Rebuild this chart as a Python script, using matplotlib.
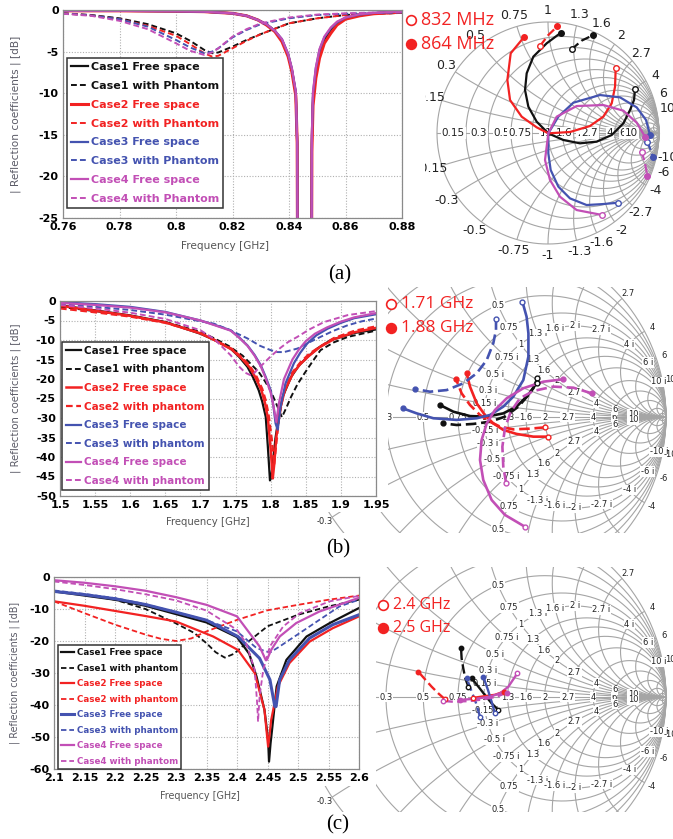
import numpy as np
import matplotlib
matplotlib.use('Agg')
import matplotlib.pyplot as plt
from matplotlib.patches import Circle
from matplotlib.lines import Line2D

plt.rcParams['axes.unicode_minus'] = False
plt.rcParams['font.family'] = ['DejaVu Sans']

# ---------------- colours ----------------
BLK = '#111111'
RED = '#f22222'
BLU = '#4453b0'
MAG = '#c24fb6'

# ---------------- panel (a) reflection data ----------------
a_free_f = [0.76, 0.78, 0.80, 0.81, 0.82, 0.825, 0.829, 0.832, 0.835, 0.8375, 0.8397, 0.841, 0.8424, 0.8429,
            0.8431, 0.8455, 0.8479, 0.8481, 0.8485, 0.8495, 0.8508, 0.8525, 0.8548, 0.857, 0.86, 0.865, 0.87, 0.8775, 0.88]
a_c1_free = [-0.1, -0.1, -0.15, -0.2, -0.4, -0.7, -1.2, -1.7, -2.5, -3.6, -5.4, -7.2, -10.0, -16,
             -40, -40, -40, -16, -10.5, -7.5, -5.2, -3.6, -2.4, -1.6, -1.0, -0.6, -0.4, -0.25, -0.2]
a_c2_free = [-0.1, -0.1, -0.15, -0.2, -0.4, -0.7, -1.2, -1.8, -2.6, -3.8, -5.6, -7.4, -10.3, -16,
             -40, -40, -40, -17, -11.5, -8.2, -5.8, -4.0, -2.8, -1.8, -1.1, -0.7, -0.45, -0.3, -0.25]
a_c3_free = [-0.1, -0.1, -0.15, -0.2, -0.4, -0.7, -1.2, -1.7, -2.5, -3.5, -5.3, -7.0, -9.8, -16,
             -40, -40, -40, -15, -10.0, -7.0, -4.8, -3.3, -2.2, -1.5, -0.9, -0.55, -0.35, -0.22, -0.2]
a_c4_free = [-0.1, -0.1, -0.15, -0.2, -0.4, -0.7, -1.2, -1.7, -2.5, -3.5, -5.3, -7.0, -9.8, -16,
             -40, -40, -40, -15, -9.8, -6.9, -4.7, -3.2, -2.1, -1.4, -0.9, -0.5, -0.35, -0.2, -0.2]
a_ph_f = [0.76, 0.77, 0.78, 0.79, 0.80, 0.805, 0.81, 0.8128, 0.815, 0.82, 0.825, 0.83, 0.84, 0.85, 0.86, 0.87, 0.88]
a_c1_ph = [-0.4, -0.6, -1.0, -1.7, -2.8, -3.7, -4.8, -5.2, -5.1, -4.4, -3.6, -2.9, -1.6, -1.0, -0.6, -0.45, -0.35]
a_c2_ph = [-0.4, -0.65, -1.1, -1.9, -3.1, -4.1, -5.2, -5.6, -5.5, -4.6, -3.7, -2.9, -1.6, -1.0, -0.6, -0.45, -0.35]
a_c3_ph = [-0.4, -0.65, -1.1, -2.0, -3.6, -4.5, -5.2, -5.0, -4.6, -3.3, -2.4, -1.7, -1.0, -0.6, -0.45, -0.35, -0.3]
a_c4_ph = [-0.45, -0.7, -1.3, -2.3, -4.0, -4.9, -5.4, -5.1, -4.6, -3.2, -2.3, -1.6, -0.9, -0.55, -0.4, -0.3, -0.25]
a_xticks = [0.76, 0.78, 0.80, 0.82, 0.84, 0.86, 0.88]
a_xticklabels = ['0.76', '0.78', '0.8', '0.82', '0.84', '0.86', '0.88']
a_yticks = [0, -5, -10, -15, -20, -25]

# ---------------- panel (b) reflection data ----------------
b_c1_free_f = [1.5, 1.55, 1.6, 1.65, 1.7, 1.72, 1.743, 1.755, 1.767, 1.775, 1.783, 1.788, 1.793, 1.796, 1.799,
               1.801, 1.804, 1.807, 1.81, 1.817, 1.829, 1.84, 1.852, 1.868, 1.886, 1.919, 1.95]
b_c1_free = [-1.1, -2.4, -3.7, -5.4, -8.4, -10.0, -12.2, -14.3, -16.9, -19.6, -22.9, -25.8, -29.7, -37.4, -46.0,
             -45.0, -40.0, -35.0, -31.4, -24.6, -19.5, -16.6, -14.4, -12.0, -10.0, -8.2, -7.3]
b_c1_ph_f = [1.5, 1.55, 1.6, 1.65, 1.7, 1.72, 1.74, 1.76, 1.783, 1.792, 1.80, 1.81, 1.816, 1.822, 1.829, 1.838,
             1.848, 1.86, 1.871, 1.89, 1.91, 1.95]
b_c1_ph = [-1.5, -2.6, -3.8, -5.4, -7.9, -9.6, -11.5, -14.0, -18.2, -20.6, -23.0, -27.2, -29.8, -27.5, -24.6, -21.4,
           -18.6, -15.4, -12.6, -10.6, -9.2, -7.6]
b_c2_free_f = [1.5, 1.55, 1.6, 1.65, 1.7, 1.72, 1.745, 1.758, 1.77, 1.779, 1.787, 1.792, 1.796, 1.8, 1.803, 1.805,
               1.808, 1.813, 1.82, 1.832, 1.842, 1.855, 1.87, 1.89, 1.92, 1.95]
b_c2_free = [-1.2, -2.5, -3.8, -5.5, -8.3, -10.0, -12.5, -14.6, -17.0, -19.8, -23.0, -26.2, -30.0, -38.0, -45.5, -42.0,
             -35.0, -28.0, -23.0, -18.5, -16.2, -14.0, -11.8, -9.8, -8.0, -6.9]
b_c2_ph_f = [1.5, 1.55, 1.6, 1.65, 1.7, 1.72, 1.745, 1.758, 1.77, 1.78, 1.788, 1.793, 1.797, 1.802, 1.805, 1.808,
             1.812, 1.818, 1.83, 1.842, 1.855, 1.872, 1.89, 1.92, 1.95]
b_c2_ph = [-1.9, -2.9, -4.0, -5.6, -8.2, -10.0, -12.3, -14.3, -16.5, -19.4, -22.5, -25.5, -29.0, -36.0, -42.0, -36.5,
           -30.0, -24.0, -18.5, -15.8, -13.5, -11.5, -9.5, -7.6, -6.5]
b_c3_free_f = [1.5, 1.55, 1.6, 1.65, 1.7, 1.72, 1.743, 1.755, 1.767, 1.777, 1.786, 1.793, 1.80, 1.804, 1.807, 1.81,
               1.814, 1.821, 1.833, 1.842, 1.852, 1.865, 1.881, 1.9, 1.919, 1.95]
b_c3_free = [-0.3, -0.8, -1.5, -2.8, -5.0, -6.1, -7.5, -9.3, -11.4, -13.8, -16.5, -19.5, -22.9, -27.0, -31.4, -33.0,
             -27.2, -21.2, -16.0, -13.3, -10.9, -8.8, -7.1, -5.6, -4.4, -3.4]
b_c3_ph_f = [1.5, 1.55, 1.6, 1.65, 1.7, 1.719, 1.74, 1.767, 1.785, 1.8, 1.81, 1.819, 1.838, 1.855, 1.871, 1.89, 1.91, 1.93, 1.95]
b_c3_ph = [-0.8, -1.5, -2.3, -3.5, -5.2, -5.8, -7.3, -9.6, -11.5, -12.6, -13.1, -13.1, -12.2, -10.6, -9.2, -7.6, -6.2, -5.2, -4.5]
b_c4_free_f = [1.5, 1.55, 1.6, 1.65, 1.7, 1.72, 1.743, 1.755, 1.767, 1.777, 1.786, 1.793, 1.80, 1.803, 1.806, 1.808,
               1.812, 1.819, 1.831, 1.84, 1.85, 1.863, 1.88, 1.9, 1.919, 1.95]
b_c4_free = [-0.5, -1.0, -1.7, -2.9, -5.0, -6.2, -7.6, -9.4, -11.5, -14.0, -16.8, -19.8, -23.5, -26.0, -29.0, -31.0,
             -26.0, -20.0, -15.0, -12.5, -10.3, -8.4, -6.8, -5.3, -4.2, -3.1]
b_c4_ph_f = [1.5, 1.55, 1.6, 1.65, 1.7, 1.72, 1.743, 1.755, 1.764, 1.771, 1.776, 1.782, 1.79, 1.80, 1.814, 1.825,
             1.838, 1.855, 1.876, 1.91, 1.95]
b_c4_ph = [-1.0, -1.9, -3.0, -4.6, -7.5, -9.8, -13.9, -16.8, -18.4, -19.0, -18.6, -17.4, -16.0, -14.2, -12.0, -10.5,
           -9.2, -7.3, -5.4, -3.6, -2.6]
b_xticks = [1.5, 1.55, 1.6, 1.65, 1.7, 1.75, 1.8, 1.85, 1.9, 1.95]
b_xticklabels = ['1.5', '1.55', '1.6', '1.65', '1.7', '1.75', '1.8', '1.85', '1.9', '1.95']
b_yticks = [0, -5, -10, -15, -20, -25, -30, -35, -40, -45, -50]

# ---------------- panel (c) reflection data ----------------
c_c1_free_f = [2.1, 2.15, 2.2, 2.25, 2.3, 2.35, 2.4, 2.42, 2.432, 2.445, 2.451, 2.4525, 2.455, 2.458, 2.465, 2.481, 2.514, 2.552, 2.6]
c_c1_free = [-4.5, -5.8, -7.1, -9.0, -11.6, -14.2, -18.8, -24.0, -31.1, -41.5, -50.9, -57.7, -52.0, -46.8, -34.2, -25.9, -18.6, -14.4, -9.7]
c_c1_ph_f = [2.1, 2.15, 2.2, 2.25, 2.3, 2.33, 2.35, 2.365, 2.38, 2.395, 2.41, 2.45, 2.5, 2.55, 2.6]
c_c1_ph = [-4.5, -5.5, -7.1, -10.0, -14.5, -17.5, -20.7, -23.5, -25.2, -24.0, -21.5, -15.4, -11.8, -9.2, -7.1]
c_c2_free_f = [2.1, 2.15, 2.2, 2.25, 2.3, 2.361, 2.4016, 2.429, 2.445, 2.451, 2.453, 2.456, 2.467, 2.486, 2.519, 2.557, 2.6]
c_c2_free = [-7.6, -9.0, -10.6, -12.2, -13.9, -18.6, -22.8, -30.0, -41.5, -53.0, -50.0, -44.7, -34.2, -26.9, -20.2, -16.0, -12.3]
c_c2_ph_f = [2.1, 2.15, 2.2, 2.25, 2.275, 2.3, 2.325, 2.35, 2.4, 2.45, 2.5, 2.55, 2.6]
c_c2_ph = [-7.6, -11.3, -14.9, -18.0, -19.3, -20.0, -19.2, -17.0, -13.4, -10.4, -8.7, -7.1, -5.8]
c_c3_free_f = [2.1, 2.15, 2.2, 2.25, 2.3, 2.35, 2.4016, 2.437, 2.454, 2.462, 2.464, 2.47, 2.486, 2.519, 2.557, 2.6]
c_c3_free = [-4.5, -5.5, -6.8, -8.6, -11.0, -13.5, -18.6, -25.4, -32.1, -40.5, -40.5, -32.1, -25.9, -19.1, -14.9, -11.8]
c_c3_ph_f = [2.1, 2.15, 2.2, 2.25, 2.3, 2.35, 2.4, 2.432, 2.448, 2.455, 2.47, 2.503, 2.535, 2.568, 2.6]
c_c3_ph = [-4.2, -5.3, -6.6, -8.5, -11.0, -13.5, -17.0, -22.2, -23.3, -23.5, -21.7, -17.5, -13.4, -9.2, -7.1]
c_c4_free_f = [2.1, 2.15, 2.2, 2.25, 2.3, 2.35, 2.4, 2.437, 2.447, 2.449, 2.456, 2.47, 2.497, 2.535, 2.6]
c_c4_free = [-1.0, -1.8, -2.9, -4.3, -6.3, -8.7, -12.3, -21.7, -25.9, -25.9, -22.8, -18.6, -14.4, -10.8, -6.5]
c_c4_ph_f = [2.1, 2.15, 2.2, 2.25, 2.3, 2.35, 2.4, 2.415, 2.429, 2.433, 2.4345, 2.437, 2.443, 2.454, 2.4755, 2.503, 2.552, 2.6]
c_c4_ph = [-1.4, -2.5, -3.8, -5.4, -7.3, -10.5, -16.5, -20.7, -29.0, -39.4, -45.2, -37.4, -29.0, -21.7, -15.5, -11.3, -7.6, -5.9]
c_xticks = [2.1, 2.15, 2.2, 2.25, 2.3, 2.35, 2.4, 2.45, 2.5, 2.55, 2.6]
c_xticklabels = ['2.1', '2.15', '2.2', '2.25', '2.3', '2.35', '2.4', '2.45', '2.5', '2.55', '2.6']
c_yticks = [0, -10, -20, -30, -40, -50, -60]

# ---------------- Smith chart traces (reflection coefficient, real / imag) ----------------
# panel (a): 832 MHz (open) -> 864 MHz (filled)
sa_c1_free_u = [0.784, 0.775, 0.739, 0.679, 0.574, 0.438, 0.288, 0.138, 0.003, -0.102, -0.177, -0.207, -0.192, -0.132, -0.012, 0.117]
sa_c1_free_v = [0.393, 0.297, 0.207, 0.087, -0.018, -0.078, -0.093, -0.063, -0.003, 0.102, 0.237, 0.387, 0.538, 0.688, 0.808, 0.904]
sa_c1_ph_u = [0.213, 0.303, 0.408]
sa_c1_ph_v = [0.754, 0.832, 0.883]
sa_c2_free_u = [0.610, 0.604, 0.574, 0.498, 0.378, 0.198, 0.003, -0.102, -0.237, -0.342, -0.366, -0.336, -0.213]
sa_c2_free_v = [0.589, 0.417, 0.267, 0.147, 0.063, 0.009, -0.003, 0.051, 0.147, 0.297, 0.477, 0.718, 0.868]
sa_c2_ph_u = [-0.072, 0.003, 0.084]
sa_c2_ph_v = [0.784, 0.883, 0.960]
sa_c3_free_u = [0.634, 0.498, 0.348, 0.198, 0.093, 0.024, 0.003, 0.003, 0.093, 0.228, 0.468, 0.649, 0.799, 0.883, 0.919]
sa_c3_free_v = [-0.628, -0.640, -0.649, -0.589, -0.483, -0.333, -0.183, -0.003, 0.147, 0.273, 0.342, 0.321, 0.231, 0.117, -0.018]
sa_c3_ph_u = [0.895, 0.925, 0.943]
sa_c3_ph_v = [-0.078, -0.153, -0.219]
sa_c4_free_u = [0.489, 0.258, 0.108, 0.018, -0.027, 0.003, 0.078, 0.258, 0.498, 0.679, 0.799, 0.874]
sa_c4_free_v = [-0.739, -0.694, -0.574, -0.423, -0.243, -0.003, 0.147, 0.243, 0.252, 0.201, 0.093, -0.033]
sa_c4_ph_u = [0.844, 0.874, 0.895]
sa_c4_ph_v = [-0.168, -0.273, -0.387]

# panel (b): 1.71 GHz (open) -> 1.88 GHz (filled)
sb_c1_free_u = [0.293, 0.271, 0.234, 0.179, 0.106, 0.015, -0.077, -0.168, -0.242]
sb_c1_free_v = [0.212, 0.158, 0.112, 0.057, 0.020, 0.002, 0.005, 0.029, 0.066]
sb_c1_ph_u = [0.289, 0.275, 0.244, 0.189, 0.115, 0.033, -0.059, -0.150, -0.223]
sb_c1_ph_v = [0.189, 0.167, 0.121, 0.057, 0.002, -0.026, -0.038, -0.044, -0.035]
sb_c2_free_u = [0.353, 0.271, 0.179, 0.106, 0.051, 0.005, -0.040, -0.077, -0.095]
sb_c2_free_v = [-0.108, -0.108, -0.093, -0.071, -0.035, 0.011, 0.075, 0.167, 0.240]
sb_c2_ph_u = [0.335, 0.253, 0.161, 0.088, 0.033, -0.022, -0.077, -0.123, -0.154]
sb_c2_ph_v = [-0.057, -0.064, -0.068, -0.053, -0.026, 0.011, 0.066, 0.130, 0.209]
sb_c3_free_u = [0.211, 0.234, 0.244, 0.244, 0.216, 0.161, 0.106, 0.033, -0.040, -0.150, -0.278, -0.370, -0.447]
sb_c3_free_v = [0.634, 0.551, 0.460, 0.332, 0.203, 0.112, 0.057, 0.011, -0.007, -0.016, -0.007, 0.020, 0.048]
sb_c3_ph_u = [0.066, 0.066, 0.051, 0.015, -0.040, -0.114, -0.205, -0.297, -0.379]
sb_c3_ph_v = [0.537, 0.478, 0.405, 0.313, 0.240, 0.185, 0.148, 0.139, 0.154]
sb_c4_free_u = [0.225, 0.115, 0.042, -0.004, -0.022, -0.013, 0.015, 0.060, 0.125, 0.216, 0.326, 0.432]
sb_c4_free_v = [-0.603, -0.538, -0.456, -0.346, -0.236, -0.126, -0.035, 0.038, 0.103, 0.158, 0.194, 0.207]
sb_c4_ph_u = [0.121, 0.106, 0.101, 0.115, 0.147, 0.198, 0.271, 0.381, 0.491, 0.592]
sb_c4_ph_v = [-0.361, -0.273, -0.163, -0.062, 0.029, 0.103, 0.143, 0.167, 0.161, 0.130]

# panel (c): 2.4 GHz (open) -> 2.5 GHz (filled)
sc_c1_free_u = [0.079, 0.042, 0.005, -0.031, -0.068]
sc_c1_free_v = [-0.071, -0.035, 0.011, 0.057, 0.103]
sc_c1_ph_u = [-0.086, -0.103, -0.114, -0.123, -0.126]
sc_c1_ph_v = [0.057, 0.103, 0.158, 0.212, 0.267]
sc_c2_free_u = [-0.060, 0.000, 0.060, 0.110]
sc_c2_free_v = [-0.005, 0.004, 0.012, 0.030]
sc_c2_ph_u = [-0.214, -0.251, -0.288, -0.324, -0.361]
sc_c2_ph_v = [-0.013, 0.020, 0.057, 0.097, 0.139]
sc_c3_free_u = [0.060, 0.044, 0.022, -0.004]
sc_c3_free_v = [-0.090, -0.033, 0.038, 0.112]
sc_c3_ph_u = [-0.022, -0.044, -0.071, -0.095]
sc_c3_ph_v = [-0.108, -0.033, 0.038, 0.103]
sc_c4_free_u = [0.183, 0.134, 0.088, 0.033, -0.040, -0.132]
sc_c4_free_v = [0.130, 0.057, 0.020, 0.002, -0.009, -0.016]
sc_c4_ph_u = [-0.223, -0.168, -0.077, -0.004, 0.070, 0.125]
sc_c4_ph_v = [-0.022, -0.026, -0.022, -0.013, 0.002, 0.024]

# Smith grid values and labels
GRID_VALS = [0.15, 0.3, 0.5, 0.75, 1, 1.3, 1.6, 2, 2.7, 4, 6, 10, 20, 50]
LBL_VALS = [0.15, 0.3, 0.5, 0.75, 1, 1.3, 1.6, 2, 2.7, 4, 6, 10]

# ---------------- figure ----------------
W, H = 673, 839
fig = plt.figure(figsize=(W / 100, H / 100), dpi=100)


def px_axes(x0, y0, x1, y1, **kw):
    return fig.add_axes([x0 / W, 1 - y1 / H, (x1 - x0) / W, (y1 - y0) / H], **kw)


def fmt(v):
    return ('%g' % v)


def s11_panel(box, xlim, ylim, xticks, xticklabels, yticks, curves, leg_anchor, fs_leg, lsp,
              fs_lab, ylab_x, xlab_pos):
    ax = px_axes(*box, zorder=2)
    ax.set_facecolor('white')
    for f, d, col, ls, lw, lab in curves:
        ax.plot(f, d, color=col, ls=ls, lw=lw, label=lab)
    ax.set_xlim(*xlim)
    ax.set_ylim(*ylim)
    ax.set_xticks(xticks)
    ax.set_xticklabels(xticklabels)
    ax.set_yticks(yticks)
    ax.set_yticklabels([fmt(y) for y in yticks])
    ax.grid(True, ls=(0, (1, 1.5)), color='#b0b0b0', lw=0.8)
    for sp in ax.spines.values():
        sp.set_color('#8a8a8a')
        sp.set_linewidth(0.9)
    ax.tick_params(length=0, labelsize=8, pad=3)
    for t in ax.get_xticklabels() + ax.get_yticklabels():
        t.set_fontweight('bold')
    ax.set_xlabel('Frequency [GHz]', color='#555555', fontsize=fs_lab)
    ax.set_ylabel('| Reflection coefficients | [dB]', color='#5a5a66', fontsize=fs_lab)
    ax.yaxis.set_label_coords(ylab_x, 0.5)
    ax.xaxis.set_label_coords(*xlab_pos)
    leg = ax.legend(loc='upper left', bbox_to_anchor=leg_anchor, borderaxespad=0,
                    prop={'weight': 'bold', 'size': fs_leg}, labelcolor='linecolor',
                    frameon=True, fancybox=False, edgecolor='#333333', framealpha=1,
                    handlelength=1.5, handletextpad=0.3, labelspacing=lsp, borderpad=0.35)
    leg.get_frame().set_linewidth(1.1)
    return ax


def z2g(r, x):
    z = complex(r, x)
    g = (z - 1) / (z + 1)
    return g.real, g.imag


def smith_panel(box, center, R, lw, fs, style):
    x0, y0, x1, y1 = box
    cx, cy = center
    ax = px_axes(x0, y0, x1, y1, zorder=0)
    ax.set_xlim((x0 - cx) / R, (x1 - cx) / R)
    ax.set_ylim((cy - y1) / R, (cy - y0) / R)
    ax.axis('off')
    gc = '#a5a5a5'
    t = np.linspace(0, 2 * np.pi, 1441)
    clip = Circle((0, 0), 1.0, transform=ax.transData)
    ax.plot(np.cos(t), np.sin(t), color=gc, lw=lw, zorder=1)
    for r in GRID_VALS:
        ax.plot(r / (1 + r) + np.cos(t) / (1 + r), np.sin(t) / (1 + r), color=gc, lw=lw, zorder=1)
    for x in GRID_VALS:
        for s in (1, -1):
            ln, = ax.plot(1 + np.cos(t) / x, s / x + np.sin(t) / x, color=gc, lw=lw, zorder=1)
            ln.set_clip_path(clip)
    ax.plot([-1, 1], [0, 0], color=gc, lw=lw, zorder=1)
    bb = dict(boxstyle='square,pad=0.08', fc='white', ec='none')
    tk = dict(fontsize=fs, color='#222222', zorder=2, clip_on=True)
    if style == 'full':
        for r in LBL_VALS:
            u, v = z2g(r, 0)
            ax.text(u - 0.01, 0, fmt(r), ha='right', va='center', bbox=bb, **tk)
        for x in LBL_VALS:
            for s, pre in ((1, ''), (-1, '-')):
                u, v = z2g(0, s * x)
                ax.text(1.1 * u, 1.1 * v, pre + fmt(x), ha='center', va='center',
                        fontsize=fs + 1.5, color='#222222', zorder=2, clip_on=True)
    else:
        for r in LBL_VALS:
            u, v = z2g(r, 0)
            ax.text(u, v, fmt(r), ha='center', va='center', bbox=bb, **tk)
        for r in LBL_VALS[1:]:
            for s in (1, -1):
                u, v = z2g(r, s)
                ax.text(u, v, fmt(r), ha='center', va='center', bbox=bb, **tk)
        for x in LBL_VALS:
            if x == 1:
                continue
            for s, pre in ((1, ''), (-1, '-')):
                u, v = z2g(1, s * x)
                ax.text(u, v, pre + fmt(x) + ' i', ha='center', va='center', bbox=bb, **tk)
        for x in LBL_VALS:
            for s, pre in ((1, ''), (-1, '-')):
                u, v = z2g(0, s * x)
                ax.text(1.045 * u, 1.045 * v, pre + fmt(x), ha='center', va='center', **tk)
    return ax


def smith_trace(ax, u, v, col, ls, lw, ms):
    ax.plot(u, v, color=col, ls=ls, lw=lw, zorder=3, solid_capstyle='round')
    ax.plot(u[0], v[0], 'o', ms=ms, mfc='white', mec=col, mew=1.0, zorder=4)
    ax.plot(u[-1], v[-1], 'o', ms=ms, mfc=col, mec=col, zorder=4)


def mask(x0, y0, x1, y1):
    m = px_axes(x0, y0, x1, y1, zorder=1)
    m.set_facecolor('white')
    m.set_xticks([])
    m.set_yticks([])
    for sp in m.spines.values():
        sp.set_visible(False)


def freq_note(x, y, txt, filled, fs):
    fig.add_artist(Line2D([x / W], [1 - y / H], transform=fig.transFigure, marker='o', ms=7,
                          mfc=RED if filled else 'white', mec=RED, mew=1.2, ls='none', zorder=10))
    fig.text((x + 10) / W, 1 - y / H, txt, color=RED, fontsize=fs, ha='left', va='center',
             family=['Open Sans', 'DejaVu Sans'], zorder=10)


DSH = (0, (3, 1.6))
SDSH = (0, (4, 1.8))

# ================= Row (a) =================
sa = smith_panel((425, 0, 673, 262), (548, 133), 111, 0.8, 7.5, 'full')
for u, v, col, ls in [(sa_c1_free_u, sa_c1_free_v, BLK, '-'), (sa_c1_ph_u, sa_c1_ph_v, BLK, SDSH),
                      (sa_c2_free_u, sa_c2_free_v, RED, '-'), (sa_c2_ph_u, sa_c2_ph_v, RED, SDSH),
                      (sa_c3_free_u, sa_c3_free_v, BLU, '-'), (sa_c3_ph_u, sa_c3_ph_v, BLU, SDSH),
                      (sa_c4_free_u, sa_c4_free_v, MAG, '-'), (sa_c4_ph_u, sa_c4_ph_v, MAG, SDSH)]:
    smith_trace(sa, u, v, col, ls, 1.6, 4)

s11_panel((63, 10, 402, 218), (0.76, 0.88), (-25, 0), a_xticks, a_xticklabels, a_yticks,
          [(a_free_f, a_c1_free, BLK, '-', 1.6, 'Case1 Free space'),
           (a_ph_f, a_c1_ph, BLK, DSH, 1.4, 'Case1 with Phantom'),
           (a_free_f, a_c2_free, RED, '-', 2.2, 'Case2 Free space'),
           (a_ph_f, a_c2_ph, RED, DSH, 1.4, 'Case2 with Phantom'),
           (a_free_f, a_c3_free, BLU, '-', 1.6, 'Case3 Free space'),
           (a_ph_f, a_c3_ph, BLU, DSH, 1.4, 'Case3 with Phantom'),
           (a_free_f, a_c4_free, MAG, '-', 1.6, 'Case4 Free space'),
           (a_ph_f, a_c4_ph, MAG, DSH, 1.4, 'Case4 with Phantom')],
          (0.012, 0.769), 8, 0.8, 7.6, -0.124, (0.478, -0.11))
freq_note(411, 20, '832 MHz', False, 13)
freq_note(411, 44, '864 MHz', True, 13)
fig.text(340 / W, 1 - 275 / H, '(a)', fontsize=15, ha='center', va='center',
         family=['Liberation Serif', 'DejaVu Serif'])

# ================= Row (b) =================
sb = smith_panel((290, 287, 673, 533), (484, 417), 182, 0.8, 6, 'zoom')
for u, v, col, ls in [(sb_c1_free_u, sb_c1_free_v, BLK, '-'), (sb_c1_ph_u, sb_c1_ph_v, BLK, SDSH),
                      (sb_c2_free_u, sb_c2_free_v, RED, '-'), (sb_c2_ph_u, sb_c2_ph_v, RED, SDSH),
                      (sb_c3_free_u, sb_c3_free_v, BLU, '-'), (sb_c3_ph_u, sb_c3_ph_v, BLU, SDSH),
                      (sb_c4_free_u, sb_c4_free_v, MAG, '-'), (sb_c4_ph_u, sb_c4_ph_v, MAG, SDSH)]:
    smith_trace(sb, u, v, col, ls, 1.9, 3.5)
mask(0, 287, 388, 512)
s11_panel((60, 301, 376, 496), (1.5, 1.95), (-50, 0), b_xticks, b_xticklabels, b_yticks,
          [(b_c1_free_f, b_c1_free, BLK, '-', 1.6, 'Case1 Free space'),
           (b_c1_ph_f, b_c1_ph, BLK, DSH, 1.4, 'Case1 with phantom'),
           (b_c2_free_f, b_c2_free, RED, '-', 1.8, 'Case2 Free space'),
           (b_c2_ph_f, b_c2_ph, RED, DSH, 1.6, 'Case2 with phantom'),
           (b_c3_free_f, b_c3_free, BLU, '-', 1.6, 'Case3 Free space'),
           (b_c3_ph_f, b_c3_ph, BLU, DSH, 1.4, 'Case3 with phantom'),
           (b_c4_free_f, b_c4_free, MAG, '-', 1.6, 'Case4 Free space'),
           (b_c4_ph_f, b_c4_ph, MAG, DSH, 1.4, 'Case4 with phantom')],
          (0.006, 0.79), 7.5, 0.83, 7.3, -0.123, (0.468, -0.108))
freq_note(391, 304, '1.71 GHz', False, 12.5)
freq_note(391, 328, '1.88 GHz', True, 12.5)
fig.text(338 / W, 1 - 549 / H, '(b)', fontsize=15, ha='center', va='center',
         family=['Liberation Serif', 'DejaVu Serif'])

# ================= Row (c) =================
sc = smith_panel((290, 567, 673, 812), (484, 697), 182, 0.8, 6, 'zoom')
for u, v, col, ls in [(sc_c1_free_u, sc_c1_free_v, BLK, '-'), (sc_c1_ph_u, sc_c1_ph_v, BLK, SDSH),
                      (sc_c2_free_u, sc_c2_free_v, RED, '-'), (sc_c2_ph_u, sc_c2_ph_v, RED, SDSH),
                      (sc_c3_free_u, sc_c3_free_v, BLU, '-'), (sc_c3_ph_u, sc_c3_ph_v, BLU, SDSH),
                      (sc_c4_free_u, sc_c4_free_v, MAG, '-'), (sc_c4_ph_u, sc_c4_ph_v, MAG, SDSH)]:
    smith_trace(sc, u, v, col, ls, 1.7, 3.2)
mask(0, 567, 376, 786)
s11_panel((54, 577, 359, 769), (2.1, 2.6), (-60, 0), c_xticks, c_xticklabels, c_yticks,
          [(c_c1_free_f, c_c1_free, BLK, '-', 1.6, 'Case1 Free space'),
           (c_c1_ph_f, c_c1_ph, BLK, DSH, 1.3, 'Case1 with phantom'),
           (c_c2_free_f, c_c2_free, RED, '-', 1.6, 'Case2 Free space'),
           (c_c2_ph_f, c_c2_ph, RED, DSH, 1.3, 'Case2 with phantom'),
           (c_c3_free_f, c_c3_free, BLU, '-', 2.2, 'Case3 Free space'),
           (c_c3_ph_f, c_c3_ph, BLU, DSH, 1.3, 'Case3 with phantom'),
           (c_c4_free_f, c_c4_free, MAG, '-', 1.6, 'Case4 Free space'),
           (c_c4_ph_f, c_c4_ph, MAG, DSH, 1.3, 'Case4 with phantom')],
          (0.013, 0.646), 6.3, 0.75, 6.9, -0.111, (0.479, -0.115))
freq_note(383, 605, '2.4 GHz', False, 11.5)
freq_note(383, 628, '2.5 GHz', True, 11.5)
fig.text(338 / W, 1 - 825 / H, '(c)', fontsize=15, ha='center', va='center',
         family=['Liberation Serif', 'DejaVu Serif'])

fig.savefig('out.png', dpi=100, facecolor='white')
